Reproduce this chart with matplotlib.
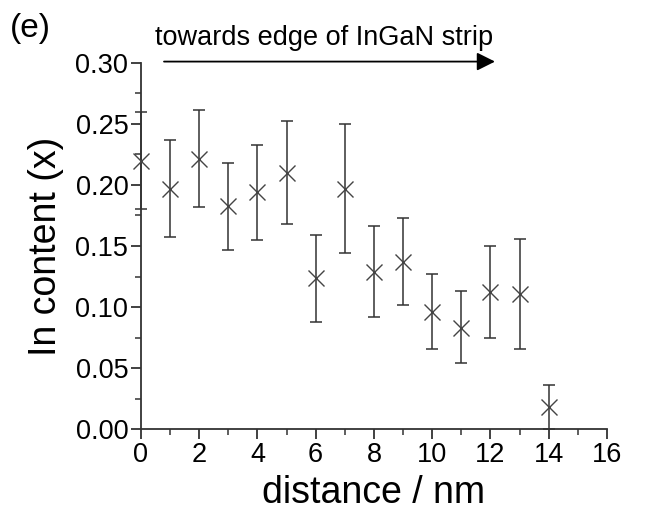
import matplotlib
matplotlib.use("Agg")
import matplotlib.pyplot as plt
from matplotlib.ticker import MultipleLocator

plt.rcParams['font.family'] = ['Liberation Sans', 'DejaVu Sans']

distance = [0, 1, 2, 3, 4, 5, 6, 7, 8, 9, 10, 11, 12, 13, 14]
in_content = [0.220, 0.197, 0.221, 0.183, 0.194, 0.210, 0.124, 0.197, 0.129, 0.137, 0.096, 0.083, 0.112, 0.111, 0.018]
err_upper = [0.260, 0.237, 0.261, 0.218, 0.233, 0.252, 0.159, 0.250, 0.166, 0.173, 0.127, 0.113, 0.150, 0.156, 0.036]
err_lower = [0.180, 0.157, 0.182, 0.147, 0.155, 0.168, 0.088, 0.144, 0.092, 0.102, 0.066, 0.054, 0.075, 0.066, 0.000]

yerr = [[v - lo for v, lo in zip(in_content, err_lower)],
        [hi - v for v, hi in zip(in_content, err_upper)]]

fig = plt.figure(figsize=(6.52, 5.19), dpi=100)
ax = fig.add_axes([0.216, 0.173, 0.715, 0.706])

ax.errorbar(distance, in_content, yerr=yerr, fmt='none', ecolor='#333333',
            elinewidth=1.1, capsize=4, capthick=1.1, clip_on=False, zorder=2)
ax.plot(distance, in_content, linestyle='none', marker='x', markersize=11,
        markeredgewidth=1.0, color='#444444', clip_on=False, zorder=3)

ax.set_xlim(0, 16)
ax.set_ylim(0, 0.30)
ax.xaxis.set_major_locator(MultipleLocator(2))
ax.xaxis.set_minor_locator(MultipleLocator(1))
ax.yaxis.set_major_locator(MultipleLocator(0.05))
ax.yaxis.set_minor_locator(MultipleLocator(0.025))
ax.yaxis.set_major_formatter(plt.FuncFormatter(lambda v, p: f"{v:.2f}"))

for s in ['top', 'right']:
    ax.spines[s].set_visible(False)
for s in ['left', 'bottom']:
    ax.spines[s].set_linewidth(1.3)
    ax.spines[s].set_color('#333333')

ax.tick_params(which='major', direction='out', length=7, width=1.3, labelsize=19.5, color='#333333', pad=2)
ax.tick_params(which='minor', direction='out', length=4, width=1.1, color='#333333')

ax.set_xlabel('distance / nm', fontsize=27, labelpad=5)
ax.set_ylabel('In content (x)', fontsize=27, labelpad=8)

ax.annotate('', xy=(12.25, 0.301), xytext=(0.7, 0.301),
            arrowprops=dict(arrowstyle='-|>,head_length=1.1,head_width=0.55', color='black', lw=1.3),
            annotation_clip=False)
ax.text(6.3, 0.3205, 'towards edge of InGaN strip', fontsize=19.5, ha='center', va='center')
fig.text(0.015, 0.945, '(e)', fontsize=24, ha='left', va='center')

fig.savefig('out.png', dpi=100)
